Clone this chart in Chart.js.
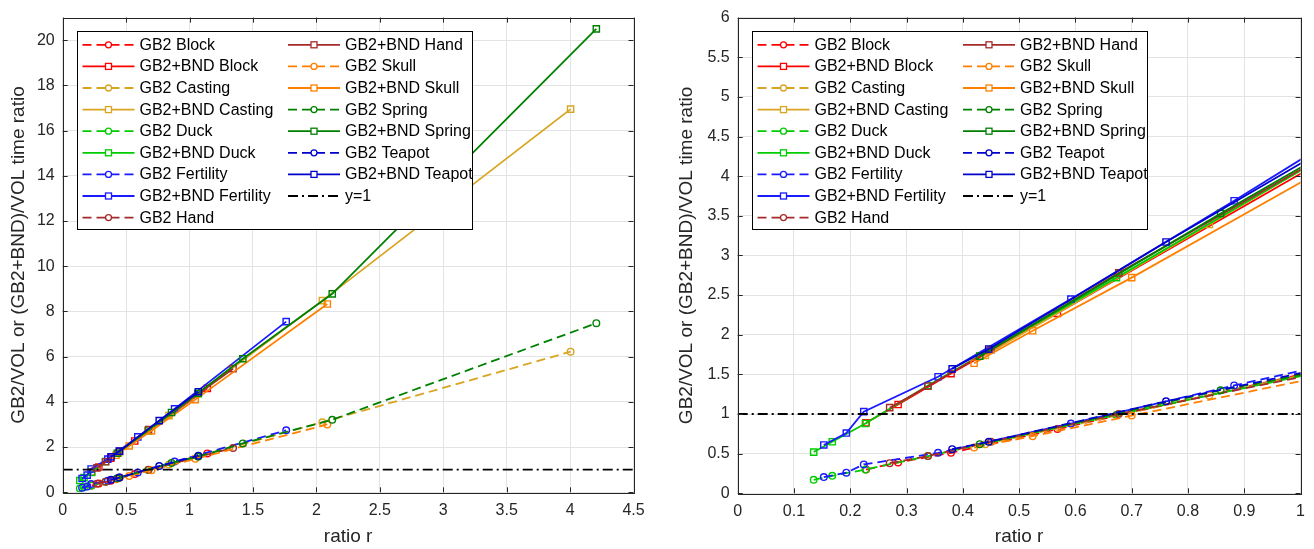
<!DOCTYPE html>
<html><head><meta charset="utf-8">
<script src="https://cdn.jsdelivr.net/npm/chart.js@4.4.0/dist/chart.umd.min.js"></script>
<style>
html,body{margin:0;padding:0;background:#fff;}
#wrap{position:relative;width:1314px;height:549px;overflow:hidden;}
#c1{position:absolute;left:0;top:0;}
#c2{position:absolute;left:660px;top:0;}
</style></head><body>
<div id="wrap"><canvas id="c1" width="660" height="549"></canvas><canvas id="c2" width="654" height="549"></canvas></div>
<script>
// ---- data (ratio r and time ratios) ----
const models = ['Block','Casting','Duck','Fertility','Hand','Skull','Spring','Teapot'];
const rBlock = [0.228, 0.285, 0.379, 0.568, 1.14];
const gb2Block = [0.30, 0.39, 0.51, 0.81, 1.72];
const bndBlock = [0.89, 1.12, 1.51, 2.27, 4.60];
const rCasting = [0.44, 0.838, 2.047, 4.004];
const gb2Casting = [0.62, 1.235, 3.10, 6.22];
const bndCasting = [1.74, 3.39, 8.48, 16.95];
const rDuck = [0.135, 0.168, 0.227, 0.338, 0.673, 1.07];
const gb2Duck = [0.17, 0.22, 0.30, 0.47, 0.99, 1.58];
const bndDuck = [0.52, 0.65, 0.88, 1.36, 2.72, 4.36];
const rFertility = [0.153, 0.193, 0.224, 0.356, 0.592, 0.882, 1.762];
const gb2Fertility = [0.205, 0.26, 0.364, 0.51, 0.88, 1.36, 2.74];
const bndFertility = [0.61, 0.76, 1.03, 1.47, 2.45, 3.69, 7.55];
const rHand = [0.270, 0.338, 0.450, 0.677, 1.343];
const gb2Hand = [0.38, 0.47, 0.65, 1.00, 1.96];
const bndHand = [1.08, 1.35, 1.81, 2.78, 5.47];
const rSkull = [0.420, 0.524, 0.700, 1.045, 2.086];
const gb2Skull = [0.577, 0.72, 0.98, 1.48, 3.00];
const bndSkull = [1.64, 2.05, 2.72, 4.10, 8.33];
const rSpring = [0.43, 0.858, 1.066, 1.420, 2.125, 4.207];
const gb2Spring = [0.62, 1.30, 1.58, 2.16, 3.21, 7.48];
const bndSpring = [1.73, 3.53, 4.38, 5.91, 8.78, 20.5];
const rTeapot = [0.381, 0.446, 0.761, 1.070];
const gb2Teapot = [0.556, 0.65, 1.16, 1.62];
const bndTeapot = [1.57, 1.82, 3.17, 4.45];
const refLevel = 1;

// ---- tick values ----
const leftXTicks = [0, 0.5, 1, 1.5, 2, 2.5, 3, 3.5, 4, 4.5];
const leftYTicks = [0, 2, 4, 6, 8, 10, 12, 14, 16, 18, 20];
const rightXTicks = [0, 0.1, 0.2, 0.3, 0.4, 0.5, 0.6, 0.7, 0.8, 0.9, 1];
const rightYTicks = [0, 0.5, 1, 1.5, 2, 2.5, 3, 3.5, 4, 4.5, 5, 5.5, 6];

const seriesDefs = [
  ['Block', rBlock, gb2Block, bndBlock, '#ff0000'],
  ['Casting', rCasting, gb2Casting, bndCasting, '#d9a520'],
  ['Duck', rDuck, gb2Duck, bndDuck, '#00cc00'],
  ['Fertility', rFertility, gb2Fertility, bndFertility, '#1a1aff'],
  ['Hand', rHand, gb2Hand, bndHand, '#a52a2a'],
  ['Skull', rSkull, gb2Skull, bndSkull, '#ff8000'],
  ['Spring', rSpring, gb2Spring, bndSpring, '#008000'],
  ['Teapot', rTeapot, gb2Teapot, bndTeapot, '#0000cc']
];

const DASH = [9, 5];
const DASHDOT = [10, 4, 2, 4];
const LW = 1.8;

function buildDatasets(xMin, xMax) {
  const ds = [];
  seriesDefs.forEach(([name, r, g, b, col]) => {
    ds.push({label: 'GB2 ' + name, data: r.map((x, i) => ({x, y: g[i]})),
      borderColor: col, backgroundColor: 'rgba(0,0,0,0)', pointBackgroundColor: 'rgba(0,0,0,0)',
      borderWidth: LW, borderDash: DASH, pointStyle: 'circle', pointRadius: 3.3, pointBorderWidth: 1.4,
      pointBorderColor: col});
    ds.push({label: 'GB2+BND ' + name, data: r.map((x, i) => ({x, y: b[i]})),
      borderColor: col, backgroundColor: 'rgba(0,0,0,0)', pointBackgroundColor: 'rgba(0,0,0,0)',
      borderWidth: LW, borderDash: [], pointStyle: 'rect', pointRadius: 4.4, pointBorderWidth: 1.4,
      pointBorderColor: col});
  });
  ds.push({label: 'y=1', data: [{x: xMin, y: refLevel}, {x: xMax, y: refLevel}],
    borderColor: '#000000', backgroundColor: 'rgba(0,0,0,0)', borderWidth: LW, borderDash: DASHDOT,
    pointRadius: 0, pointStyle: false});
  ds.forEach((d, i) => { d.order = -i; d.tension = 0; d.fill = false; });
  return ds;
}

const AX = '#262626';
const FONT = "'Liberation Sans', Arial, sans-serif";

const framePlugin = {
  id: 'frame',
  afterDraw(chart, args, opts) {
    const ctx = chart.ctx, ca = chart.chartArea;
    const xs = chart.scales.x, ys = chart.scales.y;
    ctx.save();
    ctx.strokeStyle = AX; ctx.lineWidth = 1; ctx.setLineDash([]);
    const tl = 5;
    ctx.beginPath();
    opts.xTicks.forEach(v => {
      const p = Math.round(xs.getPixelForValue(v)) + 0.5;
      ctx.moveTo(p, ca.bottom); ctx.lineTo(p, ca.bottom - tl);
      ctx.moveTo(p, ca.top); ctx.lineTo(p, ca.top + tl);
    });
    opts.yTicks.forEach(v => {
      const p = Math.round(ys.getPixelForValue(v)) + 0.5;
      ctx.moveTo(ca.left, p); ctx.lineTo(ca.left + tl, p);
      ctx.moveTo(ca.right, p); ctx.lineTo(ca.right - tl, p);
    });
    ctx.stroke();
    ctx.strokeRect(Math.round(ca.left) + 0.5, Math.round(ca.top) + 0.5,
      Math.round(ca.right - ca.left), Math.round(ca.bottom - ca.top));
    // legend
    const bx = Math.round(ca.left + 14) + 0.5, by = Math.round(ca.top + 13.7) + 0.5;
    const bw = 395, bh = 198;
    ctx.fillStyle = '#ffffff';
    ctx.fillRect(bx, by, bw, bh);
    ctx.strokeStyle = '#000000';
    ctx.strokeRect(bx, by, bw, bh);
    ctx.font = '16px ' + FONT;
    ctx.textBaseline = 'middle';
    ctx.textAlign = 'left';
    chart.data.datasets.forEach((d, i) => {
      const col = i < 9 ? 0 : 1, row = i < 9 ? i : i - 9;
      const x0 = bx + 5 + col * 205.5;
      const y = by + 13.3 + row * 21.6;
      ctx.strokeStyle = d.borderColor; ctx.lineWidth = d.borderWidth;
      ctx.setLineDash(d.borderDash || []);
      ctx.beginPath(); ctx.moveTo(x0, y); ctx.lineTo(x0 + 52, y); ctx.stroke();
      ctx.setLineDash([]);
      ctx.lineWidth = 1.3;
      const mx = x0 + 26;
      if (d.pointStyle === 'circle') {
        ctx.fillStyle = '#ffffff';
        ctx.beginPath(); ctx.arc(mx, y, 3, 0, Math.PI * 2); ctx.fill(); ctx.stroke();
      } else if (d.pointStyle === 'rect') {
        ctx.fillStyle = '#ffffff';
        ctx.fillRect(mx - 3, y - 3, 6, 6);
        ctx.strokeRect(mx - 3, y - 3, 6, 6);
      }
      ctx.fillStyle = '#000000';
      ctx.fillText(d.label, x0 + 57, y + 0.5);
    });
    ctx.restore();
  }
};

function makeChart(id, cfg) {
  const xTicks = cfg.xTicks, yTicks = cfg.yTicks;
  return new Chart(document.getElementById(id), {
    type: 'line',
    data: {datasets: buildDatasets(cfg.xMin, cfg.xMax)},
    plugins: [framePlugin],
    options: {
      responsive: false, animation: false, devicePixelRatio: 1,
      layout: {autoPadding: false, padding: {left: 0, right: cfg.padRight, top: cfg.padTop, bottom: 0}},
      plugins: {legend: {display: false}, tooltip: {enabled: false}, frame: {xTicks, yTicks}},
      elements: {line: {tension: 0}},
      scales: {
        x: {type: 'linear', min: cfg.xMin, max: cfg.xMax,
          afterBuildTicks: s => { s.ticks = xTicks.map(v => ({value: v})); },
          afterFit: s => { s.height = cfg.xHeight; },
          grid: {color: '#e3e3e3', lineWidth: 1, drawTicks: false},
          border: {display: false},
          ticks: {padding: 9, color: AX, font: {family: FONT, size: 16}, maxRotation: 0, autoSkip: false,
            callback: v => String(v)},
          title: {display: true, text: 'ratio r', color: AX, font: {family: FONT, size: 19},
            padding: {top: 0, bottom: cfg.xTitlePad}}
        },
        y: {type: 'linear', min: cfg.yMin, max: cfg.yMax,
          afterBuildTicks: s => { s.ticks = yTicks.map(v => ({value: v})); },
          afterFit: s => { s.width = cfg.yWidth; },
          grid: {color: '#e3e3e3', lineWidth: 1, drawTicks: false},
          border: {display: false},
          ticks: {padding: 8, color: AX, font: {family: FONT, size: 16}, autoSkip: false,
            callback: v => String(v)},
          title: {display: true, text: 'GB2/VOL or (GB2+BND)/VOL time ratio', color: AX,
            font: {family: FONT, size: 19}, padding: {top: cfg.yTitlePad, bottom: 0}}
        }
      }
    }
  });
}

makeChart('c1', {xMin: 0, xMax: 4.5, yMin: 0, yMax: 21, xTicks: leftXTicks, yTicks: leftYTicks,
  padRight: 26.5, padTop: 10, xHeight: 56.7, yWidth: 62.7, xTitlePad: 1.1, yTitlePad: 7.6});
makeChart('c2', {xMin: 0, xMax: 1, yMin: 0, yMax: 6, xTicks: rightXTicks, yTicks: rightYTicks,
  padRight: 8.3, padTop: 13.3, xHeight: 55.7, yWidth: 77.7, xTitlePad: 0.6, yTitlePad: 15.6});
</script>
</body></html>
